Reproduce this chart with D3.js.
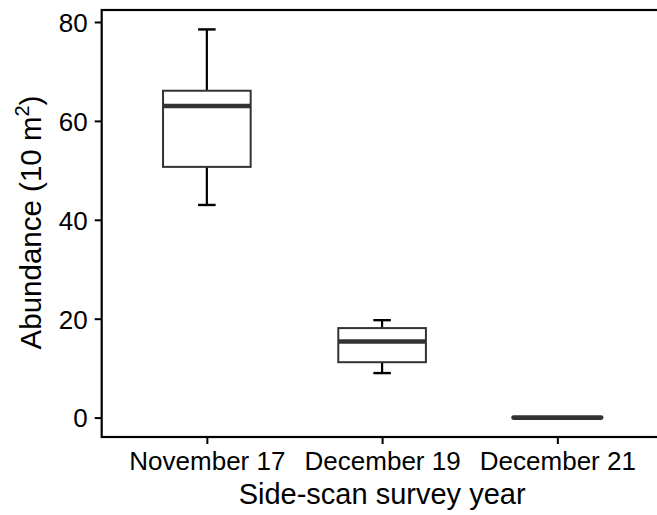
<!DOCTYPE html>
<html>
<head>
<meta charset="utf-8">
<script src="https://cdn.jsdelivr.net/npm/d3@7"></script>
<style>
  body { margin: 0; background: #fff; }
  svg { display: block; }
</style>
</head>
<body>
<div id="wrapper"></div>
<script>
width = 657
height = 515

marginTop = 10
marginLeft = 101.7
panelRight = 662.5 // panel runs past the right edge of the picture
panelBottom = 437

// box statistics
var categories = ["November 17", "December 19", "December 21"]
var whiskerLow = [43.0, 9.0, 0]
var q1 = [50.7, 11.2, 0]
var median = [63.0, 15.4, 0]
var q3 = [66.1, 18.1, 0]
var whiskerHigh = [78.5, 19.7, 0]
var yTicks = [0, 20, 40, 60, 80]

const data = categories.map((c, i) => ({
    cat: c, lo: whiskerLow[i], q1: q1[i], med: median[i], q3: q3[i], hi: whiskerHigh[i]
}))

const svg = d3.select("#wrapper").append("svg")
    .attr("width", width)
    .attr("height", height)
    .style("font-family", "'Liberation Sans', Arial, sans-serif")

var x = d3.scalePoint()
    .domain(categories)
    .range([marginLeft, panelRight])
    .padding(0.6)

var y = d3.scaleLinear()
    .domain([-3.925, 82.425])
    .range([panelBottom, marginTop])

var step = x.step()
var boxW = step * 0.5
var capW = step * 0.1

// whiskers (errorbar style, black)
var g = svg.append("g")
data.forEach(d => {
    var cx = x(d.cat)
    if (d.hi > d.q3) {
        g.append("line").attr("x1", cx).attr("x2", cx).attr("y1", y(d.q3)).attr("y2", y(d.hi))
            .attr("stroke", "#000").attr("stroke-width", 2.2)
        g.append("line").attr("x1", cx - capW / 2).attr("x2", cx + capW / 2).attr("y1", y(d.hi)).attr("y2", y(d.hi))
            .attr("stroke", "#000").attr("stroke-width", 2.4)
    }
    if (d.lo < d.q1) {
        g.append("line").attr("x1", cx).attr("x2", cx).attr("y1", y(d.q1)).attr("y2", y(d.lo))
            .attr("stroke", "#000").attr("stroke-width", 2.2)
        g.append("line").attr("x1", cx - capW / 2).attr("x2", cx + capW / 2).attr("y1", y(d.lo)).attr("y2", y(d.lo))
            .attr("stroke", "#000").attr("stroke-width", 2.4)
    }
})

// boxes
g.selectAll(".box")
    .data(data)
    .join("rect")
    .attr("class", "box")
    .attr("x", d => x(d.cat) - boxW / 2)
    .attr("width", boxW)
    .attr("y", d => y(d.q3))
    .attr("height", d => y(d.q1) - y(d.q3))
    .attr("fill", "#fff")
    .attr("stroke", "#333")
    .attr("stroke-width", 2)

// medians
g.selectAll(".med")
    .data(data)
    .join("line")
    .attr("class", "med")
    .attr("x1", d => x(d.cat) - boxW / 2)
    .attr("x2", d => x(d.cat) + boxW / 2)
    .attr("y1", d => y(d.med))
    .attr("y2", d => y(d.med))
    .attr("stroke", "#333")
    .attr("stroke-width", 4.6)
    .attr("stroke-linecap", d => d.q1 == d.q3 ? "round" : "butt")

// panel border
svg.append("rect")
    .attr("x", marginLeft)
    .attr("y", marginTop)
    .attr("width", panelRight - marginLeft)
    .attr("height", panelBottom - marginTop)
    .attr("fill", "none")
    .attr("stroke", "#000")
    .attr("stroke-width", 2.2)

// axes
var yAxis = svg.append("g")
    .attr("transform", `translate(${marginLeft},0)`)
    .call(d3.axisLeft(y).tickValues(yTicks).tickSize(7).tickPadding(7))
yAxis.select(".domain").remove()
yAxis.selectAll(".tick line").attr("stroke", "#000").attr("stroke-width", 2)
yAxis.selectAll(".tick text")
    .attr("fill", "#000")
    .style("font-size", "26px")
    .attr("dy", "0.36em")

var xAxis = svg.append("g")
    .attr("transform", `translate(0,${panelBottom})`)
    .call(d3.axisBottom(x).tickSize(7).tickPadding(7.5))
xAxis.select(".domain").remove()
xAxis.selectAll(".tick line").attr("stroke", "#000").attr("stroke-width", 2)
xAxis.selectAll(".tick text")
    .attr("fill", "#000")
    .style("font-size", "26px")

// axis titles
svg.append("text")
    .attr("x", (marginLeft + panelRight) / 2)
    .attr("y", 504)
    .attr("text-anchor", "middle")
    .style("font-size", "29px")
    .attr("fill", "#000")
    .text("Side-scan survey year")

var yt = svg.append("text")
    .attr("transform", "translate(40.5,222.5) rotate(-90)")
    .attr("text-anchor", "middle")
    .style("font-size", "29.5px")
    .attr("fill", "#000")
yt.append("tspan").text("Abundance (10 m")
yt.append("tspan").attr("dy", -12).style("font-size", "20px").text("2")
yt.append("tspan").attr("dy", 12).text(")")
</script>
</body>
</html>
